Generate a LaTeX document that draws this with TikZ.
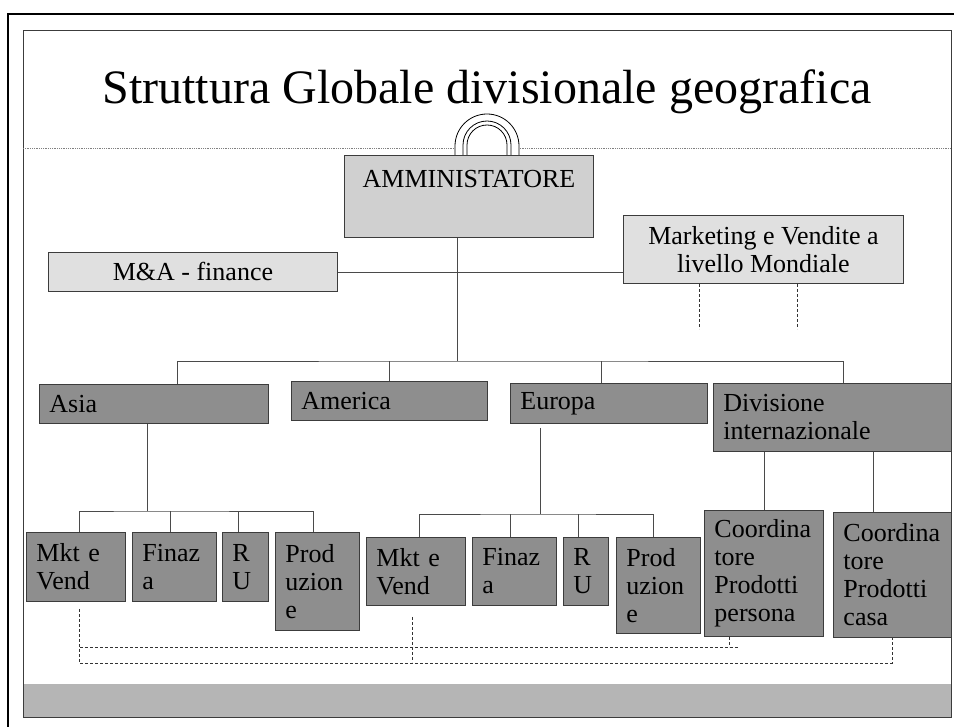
\documentclass[tikz,border=0pt]{standalone}
\usepackage{fontspec}
\setmainfont{Liberation Serif}
\usetikzlibrary{calc}
\definecolor{boxdark}{HTML}{8E8E8E}
\definecolor{boxlight}{HTML}{E0E0E0}
\definecolor{boxmid}{HTML}{D0D0D0}
\definecolor{band}{HTML}{B5B5B5}
\definecolor{edge}{HTML}{3C3C3C}
\definecolor{wirecol}{HTML}{4A4A4A}

\begin{document}
\begin{tikzpicture}[x=1pt,y=-1pt,
  unit/.style={anchor=north west,draw=edge,line width=0.9pt,fill=boxdark,
    font=\fontsize{26}{28}\selectfont,align=left,inner xsep=10pt,inner ysep=0pt},
  staff/.style={anchor=north west,draw=edge,line width=0.9pt,fill=boxlight,
    font=\fontsize{26}{28}\selectfont,align=center,inner sep=0pt},
  wire/.style={draw=wirecol,line width=0.8pt},
  dashwire/.style={draw=black!80,line width=0.8pt,dash pattern=on 3pt off 2pt}]
  \useasboundingbox (0,0) rectangle (954,727);

  % Slide frame
  \draw[black,line width=2.2pt] (8,727) |- (954,14);
  \fill[band] (23,684) rectangle (951,717);
  \draw[edge,line width=0.9pt] (23,30) rectangle (951,717);
  \draw[gray,densely dotted,line width=0.8pt] (23,148) -- (951,148);
  \node[anchor=base,font=\fontsize{48}{58}\selectfont] (title) at (487,104)
    {Struttura Globale divisionale geografica};

  % Ring
  \filldraw[fill=white,draw=black,line width=0.8pt] (455,155) -- (455,146)
    arc[start angle=180,end angle=0,radius=32pt] -- (519,155);
  \draw[black,line width=0.8pt] (463,155) -- (463,145)
    arc[start angle=180,end angle=0,radius=24pt] -- (511,155);
  \draw[black,line width=0.8pt] (467,155) -- (467,145)
    arc[start angle=180,end angle=0,radius=20pt] -- (507,155);

  % Top level
  \node[staff,fill=boxmid,minimum width=249pt,minimum height=82pt] (amm) at (344,155) {};
  \node[anchor=base,font=\fontsize{26}{28}\selectfont] (ammtxt) at ([yshift=-33pt]amm.north)
    {AMMINISTATORE};
  \node[staff,minimum width=289pt,minimum height=39pt] (mafin) at (48,252) {M\&A - finance};
  \node[staff,minimum width=280pt,minimum height=68pt] (mktmond) at (623,215)
    {Marketing e Vendite a\\livello Mondiale};

  % Divisions
  \node[unit,text width=209pt,minimum height=39pt] (asia) at (39,384) {Asia};
  \node[unit,text width=176pt,minimum height=39pt] (america) at (291,381) {America};
  \node[unit,text width=177pt,minimum height=40pt] (europa) at (510,383) {Europa};
  \node[unit,text width=218pt,minimum height=68pt] (divint) at (713,383)
    {Divisione\\internazionale};

  % Asia functions
  \node[unit,text width=79pt,minimum height=69pt] (asmkt) at (26,532) {Mkt e\\Vend};
  \node[unit,text width=64pt,minimum height=69pt] (asfin) at (132,532) {Finaz\\a};
  \node[unit,text width=26pt,minimum height=69pt] (asru) at (222,532) {R\\U};
  \node[unit,text width=64pt,minimum height=98pt] (asprod) at (275,532) {Prod\\uzion\\e};

  % Europa functions
  \node[unit,text width=79pt,minimum height=68pt] (eumkt) at (366,537) {Mkt e\\Vend};
  \node[unit,text width=64pt,minimum height=68pt] (eufin) at (472,537) {Finaz\\a};
  \node[unit,text width=25pt,minimum height=68pt] (euru) at (563,537) {R\\U};
  \node[unit,text width=64pt,minimum height=96pt] (euprod) at (616,537) {Prod\\uzion\\e};

  % Product coordinators
  \node[unit,text width=99pt,minimum height=126pt] (coordpers) at (704,510)
    {Coordina\\tore\\Prodotti\\persona};
  \node[unit,text width=98pt,minimum height=125pt] (coordcasa) at (833,512)
    {Coordina\\tore\\Prodotti\\casa};

  % Lines from the top
  \coordinate (bus) at (457,361);
  \draw[wire] (amm.south -| bus) -- (bus);
  \draw[wire] (mafin.east) -- (mafin.east -| mktmond.west);
  \draw[wire] ([xshift=23.5pt]asia.north) |- (bus) -| ([xshift=11pt]divint.north);
  \draw[wire] (america.north) -- (america.north |- bus);
  \draw[wire] ([xshift=-7.5pt]europa.north) -- ([xshift=-7.5pt]europa.north |- bus);

  % Lines under Asia
  \coordinate (asbus) at (147,511);
  \draw[wire] (asia.south -| asbus) -- (asbus);
  \draw[wire] ([xshift=3.5pt]asmkt.north) |- (asbus) -| ([xshift=-4pt]asprod.north);
  \foreach \n/\dx in {asfin/-4,asru/-7}
    \draw[wire] ([xshift=\dx pt]\n.north) -- ([xshift=\dx pt]\n.north |- asbus);

  % Lines under Europa
  \coordinate (eubus) at (540,514);
  \draw[wire] ($(europa.south -| eubus)+(0,4)$) -- (eubus);
  \draw[wire] ([xshift=3.5pt]eumkt.north) |- (eubus) -| ([xshift=-5pt]euprod.north);
  \foreach \n/\dx in {eufin/-4,euru/-7.5}
    \draw[wire] ([xshift=\dx pt]\n.north) -- ([xshift=\dx pt]\n.north |- eubus);

  % Lines under the international division
  \draw[wire] (divint.south -| coordpers.north) -- (coordpers.north);
  \draw[wire] ([xshift=-19pt]coordcasa.north |- divint.south) -- ([xshift=-19pt]coordcasa.north);

  % Dashed links
  \draw[dashwire] ([xshift=-64pt]mktmond.south) -- ++(0,45);
  \draw[dashwire] ([xshift=34pt]mktmond.south) -- ++(0,45);
  \draw[dashwire] ($(asmkt.south)+(3.5,7)$) -- ++(0,54) -| (coordcasa.south);
  \draw[dashwire] ($(asmkt.south)+(4,45)$) -- ($(coordpers.south)+(-26,10)$);
  \draw[dashwire] ($(coordpers.south)+(-35,0)$) -- ++(0,10);
  \draw[dashwire] ($(eumkt.south)+(-3.5,11)$) -- ++(0,45);
\end{tikzpicture}
\end{document}
